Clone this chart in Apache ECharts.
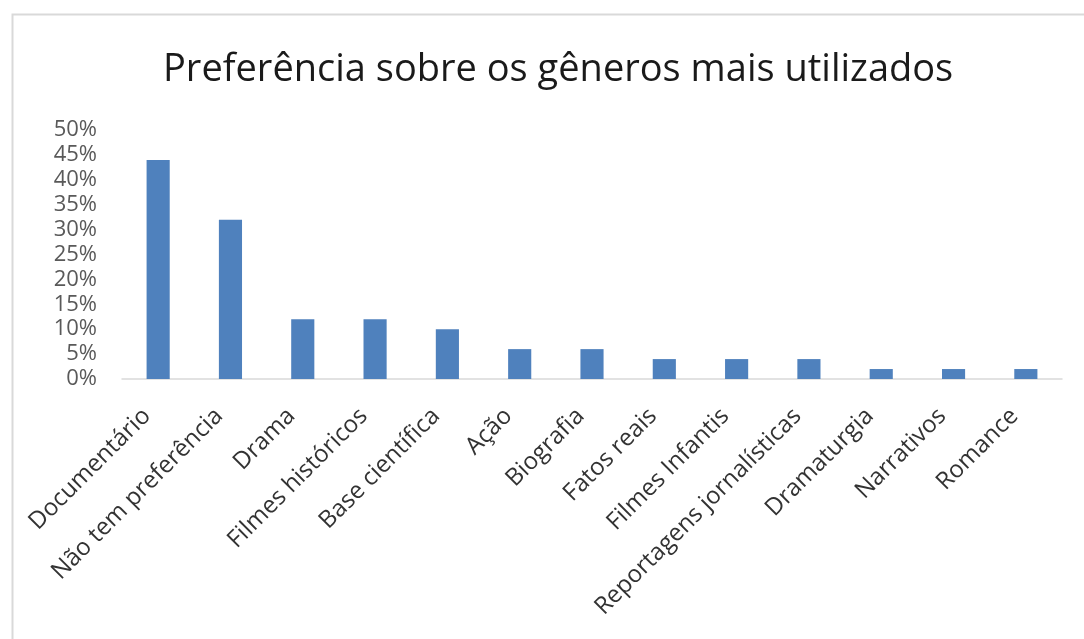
<!DOCTYPE html>
<html>
<head>
<meta charset="utf-8">
<script src="https://cdn.jsdelivr.net/npm/echarts@6/dist/echarts.min.js"></script>
<style>
html,body{margin:0;padding:0;background:#fff;}
#chart{width:1084px;height:639px;}
</style>
</head>
<body>
<div id="chart"></div>
<script>
const titleText = 'Preferência sobre os gêneros mais utilizados';
const categories = ['Documentário','Não tem preferência','Drama','Filmes históricos','Base científica','Ação','Biografia','Fatos reais','Filmes Infantis','Reportagens jornalísticas','Dramaturgia','Narrativos','Romance'];
const values = [44, 32, 12, 12, 10, 6, 6, 4, 4, 4, 2, 2, 2];
const yMin = 0, yMax = 50, yStep = 5;

const chart = echarts.init(document.getElementById('chart'), null, {renderer:'canvas'});
chart.setOption({
  backgroundColor:'#ffffff',
  animation:false,
  graphic:[{
    type:'rect', left:10, top:12, shape:{width:1200, height:800},
    style:{fill:'none', stroke:'#d9d9d9', lineWidth:2}, silent:true, z:-1
  }],
  title:{
    text:titleText, left:158, top:46,
    textStyle:{fontFamily:'Open Sans', fontSize:38, fontWeight:'normal', color:'#1a1a1a'}
  },
  grid:{left:122, right:22, top:130, bottom:260, containLabel:false},
  xAxis:{
    type:'category', data:categories,
    axisLine:{lineStyle:{color:'#d9d9d9', width:1.5}},
    axisTick:{show:false},
    axisLabel:{rotate:45, interval:0, margin:22, padding:[0,16,0,0], fontFamily:'Open Sans', fontSize:24, color:'#333333'}
  },
  yAxis:{
    type:'value', min:yMin, max:yMax, interval:yStep,
    splitLine:{show:false}, axisLine:{show:false}, axisTick:{show:false},
    axisLabel:{formatter:'{value}%', margin:25, fontFamily:'Open Sans', fontSize:22, color:'#595959'}
  },
  series:[{
    type:'bar', data:values, barWidth:'32%',
    itemStyle:{color:'#4f81bd'}
  }]
});
</script>
</body>
</html>
